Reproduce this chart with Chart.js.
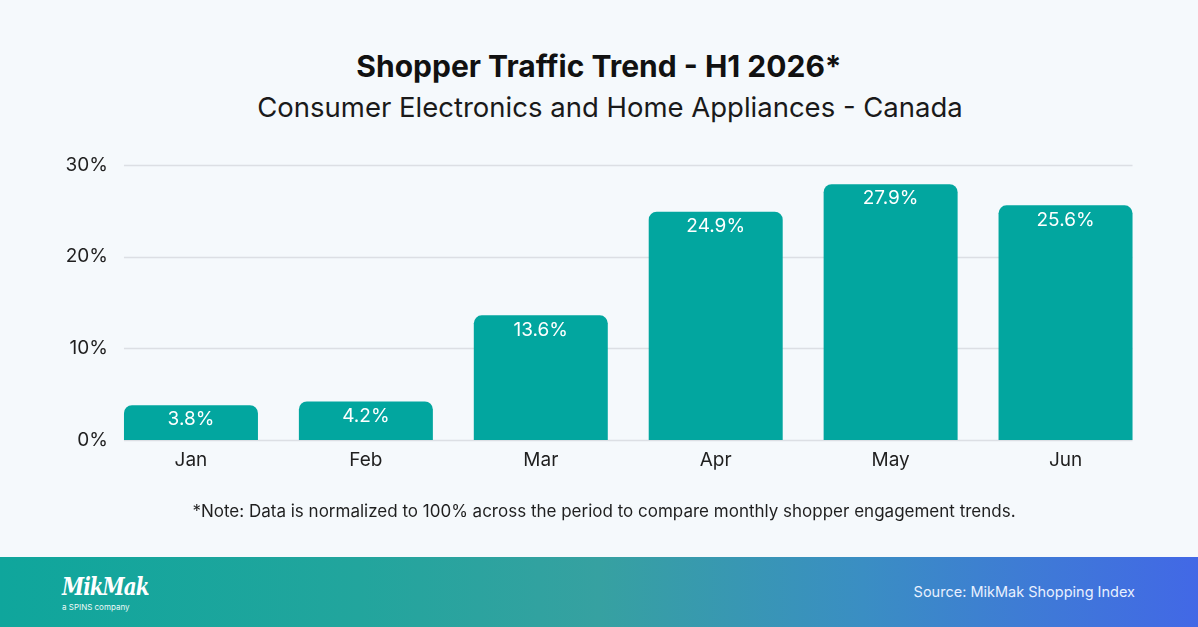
<!DOCTYPE html>
<html>
<head>
<meta charset="utf-8">
<script src="https://cdn.jsdelivr.net/npm/chart.js@4.4.1/dist/chart.umd.min.js"></script>
<style>
  html, body { margin: 0; padding: 0; }
  body { width: 1198px; height: 627px; position: relative; overflow: hidden; background: #f5f9fc; font-family: Inter, "Noto Sans", sans-serif; }
  #wrap { position: absolute; left: 0; top: 0; width: 1198px; height: 557px; }
  .title { position: absolute; left: 0; width: 1198px; text-align: center; color: #111; white-space: nowrap; }
  #t1 { top: 46px; font-size: 30px; font-weight: 700; line-height: 40px; }
  #t2 { top: 88px; left: 11px; font-size: 27.5px; font-weight: 400; line-height: 38px; color: #1a1a1a; }
  #note { top: 499px; font-size: 17px; line-height: 24px; color: #1f1f1f; left: 5px; }
  #footer { position: absolute; left: 0; top: 557px; width: 1198px; height: 70px;
    background: linear-gradient(90deg, #0fa69c 0%, #22a59d 30%, #36a1a1 50%, #3a8ec3 72%, #3f78d8 88%, #4268e6 100%); }
  #logo { position: absolute; left: 62px; top: 13px; color: #fff; font-family: "DejaVu Serif", serif; font-style: italic; font-weight: 700; font-size: 20px; letter-spacing: -1px; line-height: 26px; transform: scaleY(1.25); transform-origin: left top; }
  #logosub { position: absolute; left: 62px; top: 45px; color: #eefaf8; font-size: 8px; line-height: 10px; }
  #source { position: absolute; right: 63px; top: 25px; color: #e8f0ff; font-size: 14.5px; line-height: 20px; }
</style>
</head>
<body>
<div id="t1" class="title">Shopper Traffic Trend - H1 2026*</div>
<div id="t2" class="title">Consumer Electronics and Home Appliances - Canada</div>
<div id="wrap"><canvas id="c" width="1198" height="557"></canvas></div>
<div id="note" class="title">*Note: Data is normalized to 100% across the period to compare monthly shopper engagement trends.</div>
<div id="footer">
  <div id="logo">MikMak</div>
  <div id="logosub">a SPINS company</div>
  <div id="source">Source: MikMak Shopping Index</div>
</div>
<script>
const months = ["Jan", "Feb", "Mar", "Apr", "May", "Jun"];
const traffic = [3.8, 4.2, 13.6, 24.9, 27.9, 25.6];
const yTicks = [0, 10, 20, 30];

const gridPlugin = {
  id: 'customGrid',
  beforeDatasetsDraw(chart) {
    const meta = chart.getDatasetMeta(0);
    const first = meta.data[0], last = meta.data[meta.data.length - 1];
    const x0 = first.x - first.width / 2, x1 = last.x + last.width / 2;
    const y = chart.scales.y;
    const ctx = chart.ctx;
    ctx.save();
    ctx.strokeStyle = '#dcdfe4';
    ctx.lineWidth = 1.5;
    yTicks.forEach(v => {
      const py = Math.round(y.getPixelForValue(v)) + 0.5;
      ctx.beginPath(); ctx.moveTo(x0, py); ctx.lineTo(x1, py); ctx.stroke();
    });
    // y tick labels, right-aligned just left of the first bar
    ctx.fillStyle = '#1f1f1f';
    ctx.font = '400 19px Inter';
    ctx.textAlign = 'right';
    ctx.textBaseline = 'middle';
    yTicks.forEach(v => {
      ctx.fillText(v + '%', x0 - 16, y.getPixelForValue(v));
    });
    ctx.restore();
  }
};

const labelPlugin = {
  id: 'barLabels',
  afterDatasetsDraw(chart) {
    const meta = chart.getDatasetMeta(0);
    const ctx = chart.ctx;
    ctx.save();
    ctx.fillStyle = '#ffffff';
    ctx.font = '400 19px Inter';
    ctx.textAlign = 'center';
    ctx.textBaseline = 'middle';
    meta.data.forEach((bar, i) => {
      ctx.fillText(traffic[i].toFixed(1) + '%', bar.x, bar.y + 14.5);
    });
    ctx.restore();
  }
};

new Chart(document.getElementById('c'), {
  type: 'bar',
  data: {
    labels: months,
    datasets: [{
      data: traffic,
      backgroundColor: '#02a69f',
      borderRadius: 8,
      borderSkipped: 'start',
      categoryPercentage: 1,
      barPercentage: 0.766
    }]
  },
  options: {
    responsive: false,
    animation: false,
    events: [],
    layout: { padding: { left: 0, right: 45, top: 165, bottom: 77 } },
    plugins: { legend: { display: false }, tooltip: { enabled: false }, title: { display: false } },
    scales: {
      x: {
        offset: true,
        grid: { display: false, drawTicks: false },
        border: { display: false },
        ticks: { color: '#1f1f1f', font: { family: 'Inter', size: 19 }, padding: 9 },
        afterFit(s) { s.height = 40; }
      },
      y: {
        min: 0, max: 30,
        grid: { display: false, drawTicks: false },
        border: { display: false },
        afterBuildTicks(s) { s.ticks = yTicks.map(v => ({ value: v })); },
        ticks: { display: false },
        afterFit(s) { s.width = 103.5; }
      }
    }
  },
  plugins: [gridPlugin, labelPlugin]
});
</script>
</body>
</html>
